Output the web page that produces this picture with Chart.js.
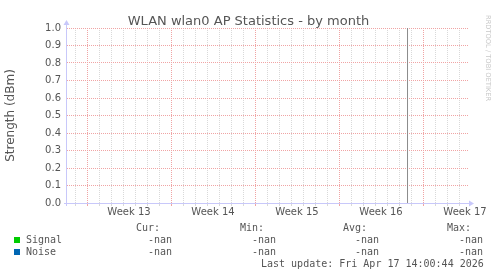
<!doctype html>
<html>
<head>
<meta charset="utf-8">
<title>WLAN wlan0 AP Statistics - by month</title>
<script src="https://cdn.jsdelivr.net/npm/chart.js@4.4.1/dist/chart.umd.min.js"></script>
<style>
  html,body{margin:0;padding:0;background:#fff}
  body{position:relative;width:497px;height:276px;overflow:hidden}
  canvas{position:absolute;left:0;top:0}
  .txt{position:absolute;white-space:pre;color:#555}
  .title{left:0;width:497px;text-align:center;top:13px;font:13px/15px "DejaVu Sans",sans-serif}
  .mono{font:10px/12px "DejaVu Sans Mono",monospace}
  .mark{position:absolute;width:6px;height:6px}
  .wm{position:absolute;left:484px;top:15px;writing-mode:vertical-rl;font:6.7px/8px "DejaVu Sans",sans-serif;color:#c8c8c8}
</style>
</head>
<body>
<canvas id="chart" width="497" height="276"></canvas>
<div class="txt title">WLAN wlan0 AP Statistics - by month</div>
<div class="wm">RRDTOOL / TOBI OETIKER</div>
<div id="legend"></div>
<script>
// x is in days; 0 = the Monday of week 13
const weekLabels = ['Week 13', 'Week 14', 'Week 15', 'Week 16', 'Week 17'];
const weekStarts = [0, 7, 14, 21, 28];
const labelOffset = 3.5; // week labels sit mid-week
const xRange = [-5 / 3, 31.75];

const yTickValues = [0, 0.1, 0.2, 0.3, 0.4, 0.5, 0.6, 0.7, 0.8, 0.9, 1.0];
const yTickLabels = ['0.0', '0.1', '0.2', '0.3', '0.4', '0.5', '0.6', '0.7', '0.8', '0.9', '1.0'];

// every sample in the period is -nan, so nothing is drawn
const signal = [];
const noise = [];
const vruleDay = 26.71;

const seriesNames = ['Signal', 'Noise'];
const seriesColors = ['#00cc00', '#0066b3'];
const statHeads = ['Cur:', 'Min:', 'Avg:', 'Max:'];
const signalStats = ['-nan', '-nan', '-nan', '-nan'];
const noiseStats = ['-nan', '-nan', '-nan', '-nan'];
const lastUpdate = 'Last update: Fri Apr 17 14:00:44 2026';

const MAJOR = '#f0a4a4';
const MINOR = '#d9d9d9';
const AXIS = '#c8c8fa';
const TEXT = '#555';
const font = { family: 'DejaVu Sans', size: 10 };

const xGridColor = (ctx) => {
  const v = ctx.tick && ctx.tick.value;
  if (!Number.isInteger(v)) return 'rgba(0,0,0,0)';
  return weekStarts.includes(v) ? MAJOR : MINOR;
};

// rrdtool style axis lines with arrow heads
const axisArrows = {
  id: 'axisArrows',
  beforeDatasetsDraw(chart) {
    const { ctx, chartArea: a } = chart;
    ctx.save();
    ctx.strokeStyle = AXIS;
    ctx.fillStyle = AXIS;
    ctx.lineWidth = 1;
    ctx.beginPath();
    ctx.moveTo(a.left - 3, a.bottom + 0.5);
    ctx.lineTo(a.right + 2, a.bottom + 0.5);
    ctx.moveTo(a.left - 0.5, a.bottom + 3);
    ctx.lineTo(a.left - 0.5, a.top - 3);
    ctx.stroke();
    ctx.beginPath();
    ctx.moveTo(a.right + 1, a.bottom - 2.5);
    ctx.lineTo(a.right + 6, a.bottom + 0.5);
    ctx.lineTo(a.right + 1, a.bottom + 3.5);
    ctx.closePath();
    ctx.fill();
    ctx.beginPath();
    ctx.moveTo(a.left - 3.5, a.top - 3);
    ctx.lineTo(a.left - 0.5, a.top - 8);
    ctx.lineTo(a.left + 2.5, a.top - 3);
    ctx.closePath();
    ctx.fill();
    ctx.restore();
  }
};

new Chart(document.getElementById('chart'), {
  type: 'line',
  data: {
    datasets: [
      { label: 'Signal', data: signal, borderColor: seriesColors[0], borderWidth: 1, pointRadius: 0 },
      { label: 'Noise', data: noise, borderColor: seriesColors[1], borderWidth: 1, pointRadius: 0 },
      { label: 'vrule', data: [{ x: vruleDay, y: 0 }, { x: vruleDay, y: 1 }], borderColor: '#8c8c8c', borderWidth: 1, pointRadius: 0 }
    ]
  },
  options: {
    responsive: false,
    animation: false,
    devicePixelRatio: 1,
    layout: { padding: { left: 0, top: 28, right: 29, bottom: 0 } },
    plugins: { legend: { display: false }, title: { display: false }, tooltip: { enabled: false } },
    scales: {
      x: {
        type: 'linear',
        min: xRange[0],
        max: xRange[1],
        afterBuildTicks: (s) => {
          const ticks = [];
          for (let d = Math.ceil(xRange[0]); d <= Math.floor(xRange[1]); d++) ticks.push({ value: d });
          weekStarts.forEach((w) => ticks.push({ value: w + labelOffset }));
          ticks.sort((a, b) => a.value - b.value);
          s.ticks = ticks;
        },
        afterFit: (s) => { s.height = 73; },
        ticks: {
          autoSkip: false, maxRotation: 0, minRotation: 0, padding: 0, color: TEXT, font,
          callback: (v) => {
            const i = weekStarts.findIndex((w) => w + labelOffset === v);
            return i < 0 ? '' : weekLabels[i];
          }
        },
        grid: { color: xGridColor, tickColor: xGridColor, tickLength: 3, lineWidth: 1 },
        border: { display: false, dash: [1, 1] }
      },
      y: {
        min: 0,
        max: 1,
        afterBuildTicks: (s) => { s.ticks = yTickValues.map((v) => ({ value: v })); },
        afterFit: (s) => { s.width = 67; },
        ticks: { padding: 6, color: TEXT, font, callback: (v, i) => yTickLabels[i] },
        grid: { color: MAJOR, drawTicks: false, lineWidth: 1 },
        border: { display: false, dash: [1, 1] },
        title: {
          display: true, text: 'Strength (dBm)', color: TEXT,
          font: { family: 'DejaVu Sans', size: 12 }, padding: { top: 4, bottom: 0 }
        }
      }
    }
  },
  plugins: [axisArrows]
});

// legend block below the plot, laid out like rrdtool's
const legend = document.getElementById('legend');
function addText(txt, x, top) {
  const d = document.createElement('div');
  d.className = 'txt mono';
  d.style.left = x + 'px';
  d.style.top = top + 'px';
  d.textContent = txt;
  legend.appendChild(d);
}
const colX = [136, 240, 343, 447];
statHeads.forEach((h, i) => addText(h, colX[i], 222));
[signalStats, noiseStats].forEach((row, r) => {
  const top = 234 + r * 12;
  const m = document.createElement('div');
  m.className = 'mark';
  m.style.left = '14px';
  m.style.top = (237 + r * 12) + 'px';
  m.style.background = seriesColors[r];
  legend.appendChild(m);
  addText(seriesNames[r], 26, top);
  row.forEach((v, i) => addText(v, colX[i] + 12, top));
});
addText(lastUpdate, 261, 258);
</script>
</body>
</html>
